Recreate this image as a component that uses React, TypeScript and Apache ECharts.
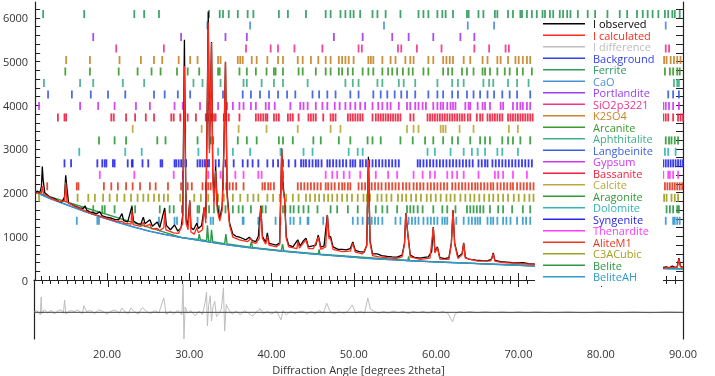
import React, { useEffect, useRef } from 'react';
import * as echarts from 'echarts';

const X_MIN = 11.13;
const X_MAX = 90;
const Y_TOP_MAX = 6366;
const Y_BOTTOM_MIN = -1351;
const DIFF_OFFSET = -740;
const ROW_START = 6090;
const ROW_STEP = 263;
const FONT = '"Open Sans", "Noto Sans", sans-serif';

const yLabelValues = [0, 1000, 2000, 3000, 4000, 5000, 6000];
const xLabelValues = [20, 30, 40, 50, 60, 70, 80, 90];

const background: [number, number][] = [
  [11.13, 2010], [13, 1860], [15, 1720], [17, 1580], [19, 1450], [21, 1330], [23, 1220], [25, 1120],
  [27, 1040], [29, 970], [31, 910], [33, 850], [35, 795], [37, 745], [39, 705], [41, 665], [43, 630],
  [45, 595], [47, 565], [49, 535], [51, 505], [53, 480], [55, 460], [57, 440], [59, 420], [61, 405],
  [63, 390], [65, 375], [67, 360], [69, 345], [71, 330], [72, 322], [87.6, 265], [90, 255],
];

const observed: [number, number][] = [
  [11.13, 1990], [11.4, 2040], [11.7, 2000], [11.9, 2150], [12.0, 2600], [12.1, 2300], [12.3, 2000],
  [12.6, 1950], [12.9, 1900], [13.2, 1880], [13.6, 1850], [14.0, 1800], [14.4, 1790], [14.7, 1900],
  [14.85, 2400], [15.0, 2100], [15.2, 1760], [15.6, 1730], [16.0, 1690], [16.5, 1650], [17.0, 1640],
  [17.2, 1700], [17.4, 1600], [17.8, 1560], [18.2, 1540], [18.6, 1520], [19.0, 1560], [19.3, 1470],
  [19.8, 1440], [20.3, 1420], [20.8, 1390], [21.3, 1380], [21.7, 1520], [21.9, 1360], [22.4, 1330],
  [22.9, 1680], [23.1, 1350], [23.6, 1290], [24.0, 1280], [24.3, 1440], [24.5, 1290], [25.1, 1380],
  [25.4, 1230], [26.0, 1330], [26.3, 1200], [26.9, 1650], [27.1, 1250], [27.6, 1150], [28.1, 1260],
  [28.5, 1120], [28.9, 1200], [29.1, 1500], [29.3, 5500], [29.5, 1400], [29.7, 1250], [29.95, 1800],
  [30.1, 1200], [30.4, 1150], [30.8, 1300], [31.0, 1180], [31.4, 1250], [31.7, 1650], [31.9, 1400],
  [32.05, 3500], [32.2, 6150], [32.35, 3000], [32.6, 5450], [32.75, 2500], [32.9, 1800], [33.1, 2600],
  [33.3, 1700], [33.6, 1400], [33.9, 1700], [34.1, 3000], [34.3, 5000], [34.5, 2000], [34.8, 1300],
  [35.2, 1050], [35.6, 1000], [36.0, 980], [36.4, 950], [36.8, 920], [37.2, 980], [37.6, 900],
  [38.0, 880], [38.3, 1000], [38.6, 1700], [38.8, 1000], [39.2, 860], [39.4, 1080], [39.6, 840],
  [40.0, 820], [40.5, 800], [40.9, 850], [41.15, 3000], [41.3, 2200], [41.5, 1850], [41.7, 1000],
  [42.0, 800], [42.5, 760], [43.1, 920], [43.4, 780], [43.8, 900], [44.1, 960], [44.4, 760],
  [44.9, 780], [45.3, 800], [45.6, 1030], [45.9, 750], [46.3, 780], [46.7, 1490], [46.9, 1000],
  [47.1, 990], [47.4, 760], [48.0, 700], [48.5, 700], [49.0, 690], [49.5, 720], [49.8, 870],
  [50.1, 680], [50.6, 650], [51.2, 640], [51.5, 800], [51.7, 2820], [51.9, 900], [52.2, 600],
  [52.8, 600], [53.3, 560], [54.0, 540], [54.6, 530], [55.2, 525], [55.8, 570], [56.1, 850],
  [56.25, 1530], [56.5, 1050], [56.8, 570], [57.3, 520], [58.0, 500], [58.5, 520], [59.0, 530],
  [59.4, 650], [59.6, 1210], [59.8, 650], [60.1, 760], [60.4, 510], [61.0, 490], [61.5, 510],
  [61.8, 850], [62.0, 1600], [62.2, 850], [62.6, 530], [63.1, 600], [63.3, 850], [63.5, 520],
  [64.0, 470], [64.8, 455], [65.5, 445], [66.2, 440], [66.7, 480], [66.9, 620], [67.1, 450],
  [67.8, 420], [68.5, 410], [69.2, 400], [70.0, 390], [70.5, 395], [71.2, 375], [72.0, 365],
  [87.6, 290], [88.0, 300], [88.3, 280], [88.7, 320], [89.0, 290], [89.3, 300], [89.5, 500],
  [89.7, 310], [90, 290],
];

const calculated: [number, number][] = [
  [11.13, 1990], [11.9, 1990], [12.0, 2150], [12.15, 1980], [13, 1880], [14, 1800], [14.7, 1800],
  [14.85, 2240], [15.0, 1790], [16, 1680], [17, 1600], [18, 1520], [19, 1460], [20, 1400], [21, 1350],
  [21.7, 1340], [22, 1300], [22.8, 1280], [22.9, 1600], [23.05, 1270], [24, 1230], [24.3, 1320],
  [24.5, 1220], [25.1, 1280], [25.3, 1170], [26, 1180], [26.3, 1130], [26.8, 1200], [26.9, 1560],
  [27.05, 1150], [28, 1080], [28.6, 1070], [29.1, 1300], [29.3, 4900], [29.5, 1300], [29.75, 1150],
  [29.95, 1830], [30.1, 1100], [30.5, 1050], [30.8, 1200], [31, 1080], [31.5, 1150], [31.7, 1670],
  [31.9, 1300], [32.05, 3400], [32.2, 5900], [32.35, 2900], [32.6, 5430], [32.75, 2400], [32.9, 1700],
  [33.1, 2500], [33.3, 1600], [33.6, 1350], [33.9, 1600], [34.1, 2900], [34.3, 4990], [34.5, 1900],
  [34.8, 1250], [35.2, 980], [36, 920], [37, 880], [37.4, 950], [37.6, 860], [38, 840], [38.4, 950],
  [38.6, 1670], [38.8, 950], [39.2, 820], [39.4, 1000], [39.6, 800], [40.5, 760], [40.9, 820],
  [41.15, 3020], [41.3, 2100], [41.5, 1830], [41.7, 950], [42, 760], [43, 720], [43.1, 880],
  [43.3, 730], [43.8, 850], [44.1, 920], [44.4, 720], [45, 720], [45.6, 980], [45.9, 700],
  [46.5, 760], [46.7, 1490], [46.9, 950], [47.1, 940], [47.4, 700], [48.5, 650], [49.5, 660],
  [49.8, 840], [50.1, 640], [51, 600], [51.5, 780], [51.7, 2750], [51.9, 850], [52.2, 560],
  [53, 530], [55, 490], [55.8, 530], [56.1, 820], [56.25, 1520], [56.5, 1050], [56.8, 530],
  [58, 470], [59.2, 500], [59.6, 1200], [59.8, 620], [60.1, 740], [60.4, 480], [61.5, 470],
  [61.8, 820], [62.0, 1600], [62.2, 820], [62.6, 490], [63.1, 580], [63.3, 840], [63.5, 500],
  [65, 430], [66.6, 440], [66.9, 600], [67.1, 430], [68, 400], [70, 375], [72, 355],
  [87.6, 270], [88.5, 290], [89.3, 290], [89.5, 480], [89.7, 300], [90, 280],
];

const difference: [number, number][] = [
  [11.13, 0], [11.5, 40], [11.9, -60], [12.0, 350], [12.1, -30], [12.4, 60], [12.8, -20], [13.2, 50],
  [13.6, -40], [14.0, 30], [14.4, 60], [14.7, -20], [14.85, 280], [15.0, -40], [15.5, 40], [16.0, 20],
  [16.5, 50], [17.0, -30], [17.2, 150], [17.5, 20], [18.0, 40], [18.5, -30], [19.0, 60], [19.5, 20],
  [20.0, -40], [20.5, 30], [21.0, 50], [21.5, -20], [21.8, 100], [22.2, 10], [22.6, -30], [22.9, 100],
  [23.3, 20], [23.8, -40], [24.3, 110], [24.8, 20], [25.3, -30], [25.8, 40], [26.3, -20], [26.9, 330],
  [27.2, -50], [27.7, 30], [28.1, -40], [28.6, 50], [29.1, -60], [29.25, 650], [29.35, -610],
  [29.5, 120], [29.8, -20], [30.2, 40], [30.7, -80], [31.2, 30], [31.6, -50], [31.9, 200],
  [32.1, 465], [32.2, -310], [32.35, 150], [32.55, 380], [32.7, -200], [32.9, 150], [33.1, 250],
  [33.3, -100], [33.6, -30], [33.9, 80], [34.15, 560], [34.3, -430], [34.5, 180], [34.8, 60],
  [35.2, -40], [35.7, 30], [36.2, -60], [36.7, 40], [37.2, -20], [37.7, -90], [38.2, 20], [38.6, 80],
  [39.0, -30], [39.5, 20], [40.0, -40], [40.6, 30], [41.15, -175], [41.4, 40], [41.8, -60], [42.3, 20],
  [42.8, -30], [43.3, 10], [43.8, 30], [44.3, -40], [44.8, 20], [45.3, -30], [45.8, 40], [46.3, -20],
  [46.7, 210], [47.1, 20], [47.6, -30], [48.2, 10], [48.8, -20], [49.3, 30], [49.8, 170], [50.2, -20],
  [50.8, 20], [51.3, -20], [51.7, 330], [52.0, 80], [52.5, 20], [53.0, -20], [53.6, 20], [54.2, -20],
  [54.8, 30], [55.4, -10], [56.0, 20], [56.6, -30], [57.2, 20], [57.8, -10], [58.4, 20], [59.0, -20],
  [59.6, 20], [60.2, -10], [60.8, 20], [61.4, -20], [62.0, -220], [62.3, -40], [62.8, 20], [63.4, -10],
  [64.0, 20], [65.0, -10], [66.0, 15], [67.0, -10], [68.0, 10], [69.0, -10], [70.0, 10], [71.0, -10],
  [72.0, 10], [74, -10], [76, 10], [78, -10], [80, 10], [82, -10], [84, 10], [86, -10], [88, 10], [90, 0],
];

const beliteCurve: [number, number][] = [
  [11.13, 2010], [29, 970], [31, 930], [31.1, 1050], [31.25, 925], [32.0, 900], [32.1, 1250],
  [32.25, 895], [32.5, 890], [32.6, 1150], [32.75, 880], [34.2, 830], [34.35, 1050], [34.5, 825],
  [37.3, 750], [37.45, 880], [37.6, 745], [41.1, 670], [41.25, 820], [41.4, 665], [45.6, 595],
  [45.7, 700], [45.8, 590], [56.5, 445], [56.6, 540], [56.7, 443], [72, 322], [87.6, 265], [90, 255],
];

const ferriteHkl = [12.1, 17.1, 23.2, 24.4, 26.2, 32.3, 33.6, 34.0, 34.7, 35.8, 37.0, 37.7, 40.8, 41.9, 44.1, 46.5, 47.1, 48.3, 48.9, 49.5, 49.9, 50.7, 52.2, 52.8, 53.8, 55.6, 57.8, 58.4, 59.0, 60.1, 60.7, 61.1, 62.0, 63.7, 63.9, 65.1, 65.7, 67.1, 67.4, 68.7, 69.3, 70.2, 70.4, 71.0, 71.6, 72.2, 72.9, 73.2, 73.8, 74.2, 75.0, 75.4, 75.9, 76.3, 77.2, 78.4, 79.3, 80.8, 82.3, 83.2, 84.4, 85.1, 85.7, 86.3, 87.0, 87.8, 88.2, 88.7, 89.0, 89.6];
const caoHkl = [32.1, 37.3, 53.6, 63.8, 67.0, 87.9];
const portlanditeHkl = [18.2, 28.9, 34.3, 36.9, 47.5, 51.0, 54.6, 56.6, 59.6, 62.9, 64.6];
const sio2Hkl = [21.0, 26.8, 36.8, 39.8, 40.7, 42.7, 46.1, 50.5, 50.9, 55.3, 55.7, 57.6, 60.6, 64.6, 66.4, 68.4, 68.8, 87.9, 88.3];
const k2so4Hkl = [14.9, 17.8, 21.4, 24.0, 25.6, 26.6, 28.6, 30.0, 30.9, 33.4, 33.7, 35.8, 36.1, 36.4, 37.5, 38.1, 39.4, 40.7, 41.3, 43.1, 43.7, 44.7, 45.6, 46.5, 47.1, 48.1, 48.5, 48.9, 49.3, 49.9, 51.7, 52.0, 52.3, 53.4, 54.4, 55.0, 56.2, 56.8, 57.2, 59.0, 59.6, 60.8, 61.2, 61.6, 62.0, 63.3, 64.1, 65.6, 66.2, 67.4, 67.8, 68.7, 69.6, 70.0, 70.5, 71.0, 71.4, 87.7, 88.0, 88.5, 88.9, 89.3, 89.7];
const arcaniteHkl = [14.8, 17.8, 21.3, 23.6, 25.3, 26.4, 28.4, 29.7, 31.1, 33.4, 33.6, 36.0, 36.9, 38.0, 39.3, 40.2, 40.4, 41.3, 43.2, 43.7, 45.3, 46.5, 47.1, 48.1, 48.5, 49.2, 49.8, 51.0, 51.7, 52.3, 53.4, 54.1, 54.6, 55.2, 55.9, 56.6, 57.1, 58.4, 59.0, 60.8, 61.4, 61.9, 63.1, 63.7, 64.5, 65.6, 65.9, 66.5, 67.4, 68.3, 68.9, 69.8, 70.5, 71.6, 87.8, 88.4, 88.8, 89.3, 89.6];
const aphthitaliteHkl = [12.2, 16.6, 18.2, 21.8, 24.4, 30.4, 31.5, 33.7, 36.5, 36.9, 38.7, 40.2, 41.3, 44.3, 48.9, 49.8, 50.5, 52.8, 53.4, 55.4, 56.0, 57.4, 60.1, 61.9, 62.6, 63.3, 65.7, 66.4, 66.9, 68.7, 69.8, 71.2, 88.9, 89.3, 89.5];
const langbeiniteHkl = [12.7, 15.6, 17.9, 20.0, 22.1, 25.6, 26.9, 28.5, 30.0, 32.5, 34.0, 36.4, 37.4, 38.5, 39.6, 40.7, 41.8, 42.8, 44.9, 45.7, 46.7, 47.7, 49.5, 50.5, 52.3, 53.2, 54.0, 54.9, 55.7, 56.4, 57.4, 59.0, 60.1, 60.8, 61.9, 62.6, 63.7, 64.5, 65.3, 66.2, 67.0, 68.0, 68.9, 69.8, 71.4, 88.2, 88.8, 89.5];
const gypsumHkl = [11.6, 16.6, 18.8, 20.8, 23.4, 25.1, 28.1, 29.1, 31.2, 32.2, 33.4, 34.5, 35.2, 36.0, 36.5, 37.4, 38.0, 39.2, 39.6, 40.3, 42.2, 43.4, 43.8, 44.3, 45.3, 46.1, 46.7, 47.6, 48.2, 48.9, 49.5, 50.1, 50.7, 51.3, 52.2, 52.9, 53.4, 54.0, 54.4, 55.4, 56.4, 56.8, 57.4, 57.8, 58.3, 58.7, 59.6, 60.1, 60.5, 60.8, 61.3, 61.7, 62.0, 62.3, 63.5, 63.9, 64.1, 65.0, 65.6, 65.9, 66.5, 67.8, 68.1, 69.3, 69.8, 70.2, 70.5, 71.0, 71.4, 87.6, 87.9, 88.3, 88.8, 89.5];
const bassaniteHkl = [13.9, 14.7, 14.9, 20.4, 20.7, 22.2, 23.3, 24.6, 25.6, 27.7, 28.0, 28.8, 29.7, 30.7, 31.9, 32.1, 32.3, 32.6, 32.9, 33.1, 34.1, 34.4, 34.7, 36.0, 38.0, 38.3, 38.6, 38.9, 39.2, 39.4, 40.2, 40.5, 40.8, 41.9, 42.2, 42.5, 43.2, 44.4, 44.7, 45.0, 45.3, 46.2, 47.1, 47.4, 47.7, 49.2, 49.5, 49.8, 50.1, 50.4, 50.7, 51.0, 52.2, 52.6, 52.9, 53.2, 53.5, 53.8, 54.1, 54.4, 54.7, 55.0, 55.3, 55.6, 56.8, 57.2, 58.9, 59.2, 59.5, 59.8, 60.1, 60.4, 60.7, 61.0, 61.3, 61.6, 61.9, 62.2, 62.5, 62.8, 63.1, 63.4, 63.8, 64.1, 64.9, 65.3, 65.6, 66.2, 66.5, 66.8, 67.1, 67.4, 67.7, 68.0, 68.7, 69.0, 69.3, 69.6, 69.9, 70.2, 70.5, 70.8, 71.1, 71.4, 71.7, 87.6, 87.9, 88.2, 88.8, 89.4, 89.7, 90.0];
const calciteHkl = [23.0, 29.4, 31.4, 35.9, 39.3, 43.1, 47.1, 48.3, 56.4, 57.2, 57.8, 60.5, 60.8, 61.1, 62.8, 64.5, 68.8, 69.9];
const aragoniteHkl = [18.9, 20.8, 22.2, 26.0, 27.0, 30.9, 32.5, 32.8, 35.8, 36.9, 38.1, 40.8, 41.3, 42.5, 45.0, 45.9, 48.1, 49.5, 51.6, 52.2, 53.2, 55.6, 57.1, 58.6, 59.6, 60.8, 61.9, 62.6, 64.1, 65.3, 65.9, 66.5, 68.0, 68.7, 69.3, 70.2, 71.4, 87.9, 88.3, 88.6, 89.0, 89.4];
const dolomiteHkl = [16.5, 22.1, 24.1, 31.0, 33.4, 35.2, 37.3, 41.0, 43.8, 44.9, 49.3, 50.4, 51.0, 58.9, 59.8, 61.7, 63.3, 64.3, 65.0, 65.9, 67.4, 68.0, 69.9, 87.8, 88.2, 89.1];
const syngeniteHkl = [14.7, 15.5, 18.7, 19.3, 19.6, 19.8, 20.6, 20.8, 22.4, 22.9, 23.0, 24.2, 24.9, 26.4, 26.6, 28.1, 28.3, 28.6, 28.9, 29.2, 29.5, 30.9, 31.2, 31.5, 31.8, 32.1, 32.3, 33.1, 33.5, 34.3, 35.3, 36.4, 37.0, 37.6, 38.3, 39.4, 40.1, 40.7, 41.3, 42.0, 42.8, 43.5, 43.8, 44.1, 44.5, 44.9, 45.3, 45.6, 46.0, 46.7, 47.0, 47.4, 47.8, 48.2, 48.6, 49.0, 49.5, 49.8, 50.1, 50.7, 51.0, 51.4, 51.8, 52.2, 52.6, 53.0, 53.4, 53.8, 54.2, 54.6, 55.0, 55.4, 57.7, 58.0, 58.4, 58.8, 59.2, 59.6, 60.0, 60.4, 60.8, 61.2, 61.6, 62.0, 62.4, 62.8, 63.2, 63.6, 64.0, 64.4, 65.1, 65.5, 65.9, 66.2, 66.8, 67.2, 67.6, 68.0, 68.4, 68.8, 69.2, 69.6, 70.0, 70.4, 70.8, 71.2, 71.6, 87.6, 87.9, 88.2, 88.5, 88.8, 89.1, 89.4, 89.7, 90.0];
const thenarditeHkl = [19.0, 23.2, 28.0, 29.1, 32.2, 33.7, 35.5, 36.5, 38.3, 38.7, 41.3, 46.5, 47.3, 47.9, 48.7, 49.4, 50.7, 51.7, 52.6, 54.1, 55.2, 57.2, 58.3, 59.2, 59.8, 61.3, 61.9, 62.5, 63.3, 65.1, 67.1, 67.5, 68.1, 69.3, 71.0, 87.6, 88.2, 88.4, 88.8, 89.4];
const aliteHkl = [12.6, 16.2, 16.4, 19.5, 20.4, 21.2, 22.2, 23.0, 23.9, 25.1, 25.8, 27.3, 28.9, 29.7, 30.2, 31.5, 31.9, 32.2, 32.5, 32.9, 34.0, 34.4, 34.8, 35.2, 35.6, 36.5, 38.8, 39.1, 39.5, 39.8, 40.2, 41.3, 43.1, 43.5, 43.9, 44.3, 44.7, 45.1, 45.5, 45.9, 46.5, 46.8, 47.2, 47.6, 48.1, 48.5, 48.8, 49.2, 49.5, 50.5, 50.9, 51.3, 51.7, 52.1, 52.5, 52.9, 53.3, 53.8, 54.2, 54.6, 55.0, 55.4, 55.9, 56.3, 56.7, 57.2, 57.6, 58.0, 58.4, 58.9, 59.3, 59.7, 60.1, 60.5, 60.9, 61.3, 61.9, 62.3, 62.7, 63.1, 63.5, 63.9, 64.3, 64.7, 65.0, 65.4, 65.8, 66.2, 66.6, 66.9, 67.4, 67.8, 68.2, 68.6, 69.0, 69.3, 69.8, 70.2, 70.6, 71.0, 71.4, 71.8, 87.8, 88.1, 88.4, 88.7, 89.0, 89.3, 89.6, 89.9];
const c3aHkl = [11.6, 16.3, 17.6, 18.4, 19.4, 20.2, 21.1, 22.0, 22.8, 23.6, 24.3, 24.9, 25.6, 26.2, 26.8, 27.3, 28.8, 29.5, 30.5, 31.3, 32.2, 33.4, 34.1, 35.2, 36.1, 37.0, 37.7, 38.3, 39.4, 40.1, 40.9, 41.7, 42.5, 43.2, 44.1, 44.6, 45.2, 45.7, 46.3, 46.8, 47.3, 47.9, 48.5, 49.1, 49.7, 50.4, 51.1, 51.5, 51.9, 52.8, 53.3, 53.9, 54.5, 55.3, 55.8, 56.3, 56.9, 57.5, 58.1, 58.8, 59.3, 59.9, 60.5, 61.2, 61.7, 62.2, 62.9, 63.5, 64.1, 64.6, 65.2, 65.8, 66.4, 66.9, 67.5, 68.1, 68.7, 69.4, 70.0, 70.7, 71.3, 71.8, 87.7, 88.0, 88.6, 89.0, 89.4];
const beliteHkl = [18.2, 19.3, 19.6, 20.8, 22.9, 23.3, 26.3, 27.5, 28.0, 29.0, 30.9, 31.1, 31.9, 32.3, 32.9, 33.5, 34.3, 35.2, 35.9, 36.4, 37.4, 38.8, 39.2, 41.3, 41.6, 42.2, 42.6, 43.2, 43.8, 44.4, 45.5, 47.1, 47.9, 49.2, 50.4, 51.6, 52.6, 53.4, 54.0, 55.2, 56.4, 56.8, 57.2, 57.7, 58.3, 59.6, 60.7, 61.3, 62.3, 63.7, 64.1, 64.5, 64.9, 65.3, 65.7, 66.5, 67.5, 68.1, 69.2, 70.5, 71.4, 88.0, 88.4, 88.8, 89.3, 89.5];
const beliteAHHkl = [16.2, 18.7, 18.9, 26.2, 28.1, 28.4, 30.9, 32.5, 32.8, 36.4, 36.5, 38.3, 40.4, 41.0, 42.2, 42.6, 43.4, 44.3, 44.4, 46.2, 46.7, 49.8, 50.4, 51.0, 51.7, 52.1, 52.5, 52.9, 53.4, 55.0, 55.6, 56.6, 57.0, 57.4, 57.8, 58.4, 58.9, 59.3, 59.7, 60.1, 60.7, 61.0, 61.3, 62.0, 62.4, 63.3, 63.9, 64.3, 64.7, 65.0, 65.3, 66.2, 66.6, 66.9, 67.4, 68.1, 68.5, 69.0, 69.8, 70.5, 70.9, 71.4, 87.9, 88.8, 89.0, 89.3, 89.6];

const phases = [
  { name: 'Ferrite', color: '#2e9a5c', hkl: ferriteHkl },
  { name: 'CaO', color: '#4a90d9', hkl: caoHkl },
  { name: 'Portlandite', color: '#9b3cf0', hkl: portlanditeHkl },
  { name: 'SiO2p3221', color: '#f0338f', hkl: sio2Hkl },
  { name: 'K2SO4', color: '#c8842a', hkl: k2so4Hkl },
  { name: 'Arcanite', color: '#3c9a2c', hkl: arcaniteHkl },
  { name: 'Aphthitalite', color: '#3fae84', hkl: aphthitaliteHkl },
  { name: 'Langbeinite', color: '#3a5ee0', hkl: langbeiniteHkl },
  { name: 'Gypsum', color: '#d234f5', hkl: gypsumHkl },
  { name: 'Bassanite', color: '#ee1f3f', hkl: bassaniteHkl },
  { name: 'Calcite', color: '#bba83c', hkl: calciteHkl },
  { name: 'Aragonite', color: '#2f9a35', hkl: aragoniteHkl },
  { name: 'Dolomite', color: '#34b4b4', hkl: dolomiteHkl },
  { name: 'Syngenite', color: '#2626ee', hkl: syngeniteHkl },
  { name: 'Thenardite', color: '#ff3cff', hkl: thenarditeHkl },
  { name: 'AliteM1', color: '#e23a22', hkl: aliteHkl },
  { name: 'C3ACubic', color: '#a0a022', hkl: c3aHkl },
  { name: 'Belite', color: '#2d9a45', hkl: beliteHkl },
  { name: 'BeliteAH', color: '#3399cc', hkl: beliteAHHkl },
];

const mainSeries = [
  { name: 'I observed', color: '#000000' },
  { name: 'I calculated', color: '#ff2a1a' },
  { name: 'I difference', color: '#bdbdbd' },
  { name: 'Background', color: '#3340ee' },
];

export default function App() {
  const ref = useRef<HTMLDivElement>(null);
  useEffect(() => {
    const chart = echarts.init(ref.current as HTMLDivElement, null, { renderer: 'svg' });
    const minorX: number[] = [];
    for (let d = 12; d <= 90; d++) minorX.push(d);
    const yTicks: number[] = [];
    for (let v = 0; v <= 6200; v += 200) yTicks.push(v);

    const axisLine = { show: true, lineStyle: { color: '#222', width: 1.2 } };
    const series: any[] = [];

    series.push({
      name: 'Background', type: 'line', xAxisIndex: 0, yAxisIndex: 0, data: background,
      symbol: 'none', lineStyle: { color: '#3340ee', width: 1.2 }, itemStyle: { color: '#3340ee' }, z: 2,
    });
    phases.forEach((p, i) => {
      let data: [number, number][] = [];
      if (p.name === 'Belite') data = beliteCurve;
      if (p.name === 'BeliteAH') data = background;
      series.push({
        name: p.name, type: 'line', xAxisIndex: 0, yAxisIndex: 0, data, symbol: 'none',
        lineStyle: { color: p.color, width: 1.4 }, itemStyle: { color: p.color }, z: 2,
      });
      const rowValue = ROW_START - i * ROW_STEP;
      series.push({
        name: p.name + ' reflections', type: 'scatter', xAxisIndex: 0, yAxisIndex: 0,
        data: p.hkl.map((x) => [x, rowValue]), symbol: 'rect', symbolSize: [1.8, 8],
        itemStyle: { color: p.color, opacity: 0.9 }, z: 2, silent: true,
      });
    });
    series.push({
      name: 'I observed', type: 'line', xAxisIndex: 0, yAxisIndex: 0, data: observed, symbol: 'none',
      lineStyle: { color: '#000', width: 1.3 }, itemStyle: { color: '#000' }, z: 3,
    });
    series.push({
      name: 'I calculated', type: 'line', xAxisIndex: 0, yAxisIndex: 0, data: calculated, symbol: 'none',
      lineStyle: { color: '#ff2a1a', width: 1.3 }, itemStyle: { color: '#ff2a1a' }, z: 4,
    });
    series.push({
      name: 'I difference', type: 'line', xAxisIndex: 3, yAxisIndex: 2,
      data: difference.map(([x, v]) => [x, v + DIFF_OFFSET]), symbol: 'none',
      lineStyle: { color: '#bdbdbd', width: 1 }, itemStyle: { color: '#bdbdbd' }, z: 3,
    });
    series.push({
      name: 'difference zero', type: 'line', xAxisIndex: 3, yAxisIndex: 2,
      data: [[X_MIN, DIFF_OFFSET], [X_MAX, DIFF_OFFSET]], symbol: 'none',
      lineStyle: { color: '#444', width: 1 }, z: 4, silent: true,
    });

    const legendNames = [
      ...mainSeries.map((m) => ({ name: m.name, color: m.color })),
      ...phases.map((p) => ({ name: p.name, color: p.color })),
    ];

    const option: any = {
      animation: false,
      textStyle: { fontFamily: FONT },
      grid: [
        { left: 34, right: 32, top: 2, height: 278 },
        { left: 34, right: 32, top: 280, height: 59 },
      ],
      xAxis: [
        { gridIndex: 0, type: 'value', min: X_MIN, max: X_MAX, position: 'top', axisLine,
          axisTick: { show: true, inside: true, length: 4, customValues: minorX, lineStyle: { color: '#222' } },
          axisLabel: { show: false }, splitLine: { show: false } },
        { gridIndex: 0, type: 'value', min: X_MIN, max: X_MAX, position: 'top', axisLine: { show: false },
          axisTick: { show: true, inside: true, length: 7, customValues: xLabelValues, lineStyle: { color: '#222' } },
          axisLabel: { show: false }, splitLine: { show: false } },
        { gridIndex: 0, type: 'value', min: X_MIN, max: X_MAX, position: 'bottom', axisLine,
          axisTick: { show: false }, axisLabel: { show: false }, splitLine: { show: false } },
        { gridIndex: 1, type: 'value', min: X_MIN, max: X_MAX, position: 'bottom', axisLine,
          axisTick: { show: true, inside: true, length: 4, customValues: minorX, lineStyle: { color: '#222' } },
          axisLabel: { show: true, customValues: xLabelValues, color: '#333', fontSize: 11, margin: 9,
            fontFamily: FONT, formatter: (v: number) => v.toFixed(2) },
          splitLine: { show: false },
          name: 'Diffraction Angle [degrees 2theta]', nameLocation: 'middle', nameGap: 25,
          nameTextStyle: { color: '#333', fontSize: 11, fontFamily: FONT } },
        { gridIndex: 1, type: 'value', min: X_MIN, max: X_MAX, position: 'bottom', axisLine: { show: false },
          axisTick: { show: true, inside: true, length: 7, customValues: xLabelValues, lineStyle: { color: '#222' } },
          axisLabel: { show: false }, splitLine: { show: false } },
      ],
      yAxis: [
        { gridIndex: 0, type: 'value', min: 0, max: Y_TOP_MAX, interval: 1000, position: 'left', axisLine,
          axisTick: { show: true, inside: true, length: 5, customValues: yTicks, lineStyle: { color: '#222' } },
          axisLabel: { show: true, customValues: yLabelValues, color: '#333', fontSize: 11, margin: 7,
            fontFamily: FONT, formatter: (v: number) => String(v) },
          splitLine: { show: false } },
        { gridIndex: 0, type: 'value', min: 0, max: Y_TOP_MAX, position: 'right', axisLine,
          axisTick: { show: true, inside: true, length: 7, customValues: yTicks, lineStyle: { color: '#222' } },
          axisLabel: { show: false }, splitLine: { show: false } },
        { gridIndex: 1, type: 'value', min: Y_BOTTOM_MIN, max: 0, position: 'left', axisLine,
          axisTick: { show: false }, axisLabel: { show: false }, splitLine: { show: false } },
        { gridIndex: 1, type: 'value', min: Y_BOTTOM_MIN, max: 0, position: 'right', axisLine,
          axisTick: { show: false }, axisLabel: { show: false }, splitLine: { show: false } },
      ],
      graphic: {
        elements: [
          { type: 'rect', z: 10, shape: { x: 535, y: 19, width: 128, height: 267 }, style: { fill: '#ffffff' }, silent: true },
        ],
      },
      legend: {
        z: 20, orient: 'vertical', left: 543, top: 18, padding: 0, itemGap: 0,
        itemWidth: 42, itemHeight: 1.5, selectedMode: false, icon: 'rect',
        textStyle: { fontSize: 11, lineHeight: 11.5, fontFamily: FONT, padding: [0, 0, 0, 3] },
        data: legendNames.map((l) => ({ name: l.name, icon: 'rect', itemStyle: { color: l.color }, textStyle: { color: l.color } })),
      },
      series,
    };
    chart.setOption(option);
    return () => chart.dispose();
  }, []);
  return <div ref={ref} style={{ position: 'fixed', left: 0, top: 0, width: 715, height: 376 }} />;
}
